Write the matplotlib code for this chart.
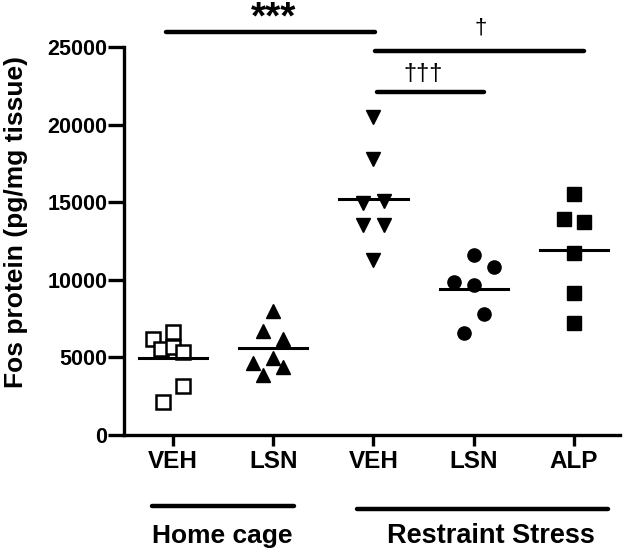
import matplotlib
matplotlib.use("Agg")
import matplotlib.pyplot as plt
import numpy as np

plt.rcParams['font.family'] = ['Liberation Sans', 'DejaVu Sans']
plt.rcParams['font.weight'] = 'bold'

# ---- data ----
groups = ["VEH", "LSN", "VEH", "LSN", "ALP"]
group_x = [1, 2, 3, 4, 5]
veh_home = [6170, 6620, 5530, 5660, 5330, 3150, 2120]
veh_home_dx = [-0.2, 0.0, -0.12, 0.0, 0.1, 0.1, -0.1]
lsn_home = [7990, 6700, 6170, 4670, 4930, 4350, 3860]
lsn_home_dx = [0.0, -0.1, 0.1, -0.2, 0.0, 0.1, -0.1]
veh_stress = [20480, 17800, 14950, 15060, 13560, 13500, 11270]
veh_stress_dx = [0.0, 0.0, -0.1, 0.1, -0.1, 0.1, 0.0]
lsn_stress = [11610, 10820, 9850, 9640, 7820, 6560]
lsn_stress_dx = [0.0, 0.2, -0.2, 0.0, 0.1, -0.1]
alp_stress = [15530, 13930, 13710, 11740, 9130, 7240]
alp_stress_dx = [0.0, -0.1, 0.1, 0.0, 0.0, 0.0]
means = [4930, 5590, 15210, 9430, 11910]

fig = plt.figure(figsize=(6.3, 5.55), dpi=100)
ax = fig.add_axes([0.1968, 0.2162, 0.7873, 0.6991])

ms = 9.5
series = [
    (veh_home, veh_home_dx, dict(marker='s', mfc='white', mec='black', mew=1.8)),
    (lsn_home, lsn_home_dx, dict(marker='^', mfc='black', mec='black')),
    (veh_stress, veh_stress_dx, dict(marker='v', mfc='black', mec='black')),
    (lsn_stress, lsn_stress_dx, dict(marker='o', mfc='black', mec='black')),
    (alp_stress, alp_stress_dx, dict(marker='s', mfc='black', mec='black')),
]
for gx, (vals, dx, style) in zip(group_x, series):
    xs = [gx + d for d in dx]
    ax.plot(xs, vals, ls='none', ms=ms, zorder=3, clip_on=False, **style)

for gx, m in zip(group_x, means):
    ax.plot([gx - 0.34, gx + 0.34], [m, m], color='black', lw=2.2, zorder=4)

ax.set_xlim(0.511, 5.459)
ax.set_ylim(0, 25000)
ax.set_yticks([0, 5000, 10000, 15000, 20000, 25000])
ax.set_xticks(group_x)
ax.set_xticklabels(groups, fontsize=17.5, fontweight='bold')
ax.tick_params(axis='y', labelsize=15.5, width=2.4, length=11.5, pad=0.5)
ax.tick_params(axis='x', width=2.4, length=8, pad=3)
for lbl in ax.get_yticklabels():
    lbl.set_fontweight('bold')
ax.spines['top'].set_visible(False)
ax.spines['right'].set_visible(False)
ax.spines['left'].set_linewidth(2.4)
ax.spines['bottom'].set_linewidth(2.4)
ax.set_ylabel("Fos protein (pg/mg tissue)", fontsize=19, fontweight='bold')
ax.yaxis.set_label_coords(-0.194, 0.55)

# significance bars
sig_lw = 3.2
ax.plot([0.93, 3.02], [25940, 25940], color='black', lw=sig_lw, solid_capstyle='round', clip_on=False)
ax.text(2.0, 26190, "***", ha='center', va='baseline', fontsize=28, fontweight='bold')
ax.plot([3.02, 5.10], [24760, 24760], color='black', lw=sig_lw, solid_capstyle='round', clip_on=False)
ax.text(4.07, 25520, "\u2020", ha='center', va='bottom', fontsize=16, fontweight='normal')
ax.plot([3.04, 4.10], [22130, 22130], color='black', lw=sig_lw, solid_capstyle='round', clip_on=False)
ax.text(3.5, 22550, "\u2020\u2020\u2020", ha='center', va='bottom', fontsize=17, fontweight='normal')

# condition groups under axis
ax.plot([0.79, 2.21], [-4563, -4563], color='black', lw=3.2, solid_capstyle='round', clip_on=False)
ax.plot([2.84, 5.34], [-4760, -4760], color='black', lw=3.2, solid_capstyle='round', clip_on=False)
ax.text(1.49, -6500, "Home cage", ha='center', va='center', fontsize=19, fontweight='bold')
ax.text(4.17, -6500, "Restraint Stress", ha='center', va='center', fontsize=19.5, fontweight='bold')

fig.savefig("out.png", dpi=100)
